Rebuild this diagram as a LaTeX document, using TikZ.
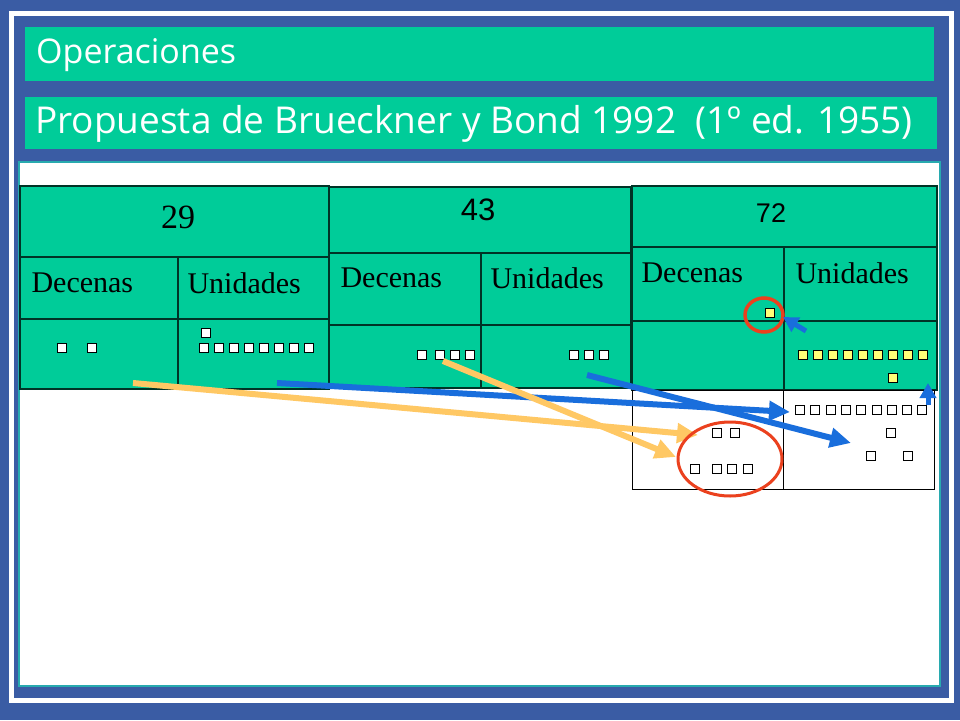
\documentclass[tikz,border=0pt]{standalone}
\usepackage{fontspec}
\setmainfont{Liberation Serif}
\newfontfamily\titlefont{Open Sans}
\newfontfamily\numfont{Liberation Sans}
\usetikzlibrary{arrows.meta}

\definecolor{slideblue}{RGB}{58,92,164}
\definecolor{cellgreen}{RGB}{0,204,153}
\definecolor{panelrim}{RGB}{40,170,175}
\definecolor{arrowblue}{RGB}{25,110,220}
\definecolor{arrowyellow}{RGB}{255,200,100}
\definecolor{ringred}{RGB}{235,65,30}
\definecolor{unitfill}{RGB}{255,255,120}

\tikzset{
  unit/.style={draw=black, fill=white, minimum size=9pt, inner sep=0pt, line width=0.8pt},
  newunit/.style={unit, fill=unitfill},
  cell/.style={draw=black!75!cellgreen, line width=1.2pt},
  move/.style={line width=6pt, -{Triangle[length=21pt,width=19pt]}},
  nudge/.style={line width=5pt, -{Triangle[length=15pt,width=16pt]}},
}

\begin{document}
\begin{tikzpicture}[x=1pt,y=-1pt]
\useasboundingbox (0,0) rectangle (960,720);
\fill[slideblue] (0,0) rectangle (960,720);
\draw[white, line width=5pt] (11,13) rectangle (951,700);

% titles
\fill[cellgreen] (25,27) rectangle (934,81);
\node[anchor=west, white, inner sep=0pt, font=\titlefont\fontsize{34}{40}\selectfont] (title) at (36,55) {Operaciones};
\fill[cellgreen] (25,97) rectangle (937,149);
\node[anchor=west, white, inner sep=0pt, font=\titlefont\fontsize{37}{42}\selectfont] (subtitle) at (35,124) {Propuesta de Brueckner y Bond 1992\ \ (1º ed. 1955)};

\fill[white] (19,162) rectangle (940,686);
\draw[panelrim, line width=1.5pt] (19,162) rectangle (940,686);

% 29
\fill[cellgreen] (20,186) rectangle (329,389);
\draw[cell] (20,186) rectangle (329,389);
\draw[cell] (20,257) -- (329,257);
\draw[cell] (20,319) -- (329,319);
\draw[cell] (178,257) -- (178,389);
\node[font=\fontsize{34}{40}\selectfont] (n29) at (178,217) {29};
\node[anchor=west, font=\fontsize{30}{36}\selectfont] (dec1) at (28,283) {Decenas};
\node[anchor=west, font=\fontsize{30}{36}\selectfont] (uni1) at (184,283) {Unidades};

% 43
\fill[cellgreen] (329,187) rectangle (631,388);
\draw[cell] (329,187) rectangle (631,388);
\draw[cell] (329,253) -- (631,253);
\draw[cell] (329,325) -- (631,325);
\draw[cell] (481,253) -- (481,388);
\node[font=\numfont\fontsize{31}{36}\selectfont] (n43) at (478,210) {43};
\node[anchor=west, font=\fontsize{30}{36}\selectfont] (dec2) at (337,278) {Decenas};
\node[anchor=west, font=\fontsize{30}{36}\selectfont] (uni2) at (487,278) {Unidades};

% 72
\fill[cellgreen] (632,186) rectangle (937,390);
\draw[cell] (632,186) rectangle (937,390);
\draw[cell] (632,247) -- (937,247);
\draw[cell] (632,321) -- (937,321);
\draw[cell] (784,247) -- (784,390);
\draw[black, line width=1pt] (632,390) rectangle (934,489);
\draw[black, line width=1pt] (783,390) -- (783,489);
\node[font=\numfont\fontsize{27}{32}\selectfont] (n72) at (771,213) {72};
\node[anchor=west, font=\fontsize{30}{36}\selectfont] (dec3) at (638,273) {Decenas};
\node[anchor=west, font=\fontsize{30}{36}\selectfont] (uni3) at (792,273) {Unidades};

% unit squares
\node[unit] (a1) at (62,348) {};
\node[unit] (a2) at (92,348) {};
\node[unit] (b0) at (206,333) {};
\foreach \x [count=\i] in {204,219,234,249,264,279,294,309}
  \node[unit] (b\i) at (\x,348) {};
\foreach \x [count=\i] in {422,440,455,470}
  \node[unit] (c\i) at (\x,355) {};
\foreach \x [count=\i] in {574,589,604}
  \node[unit] (d\i) at (\x,355) {};

\node[newunit] (ten) at (770,313) {};
\foreach \x [count=\i] in {803,818,833,848,863,878,893,908,923}
  \node[newunit] (e\i) at (\x,355) {};
\node[newunit] (e10) at (893,378) {};

\foreach \x [count=\i] in {800,815,831,846,861,877,892,907,922}
  \node[unit] (f\i) at (\x,410) {};
\node[unit] (f10) at (891,433) {};
\node[unit] (f11) at (871,456) {};
\node[unit] (f12) at (908,456) {};

\node[unit] (g1) at (717,433) {};
\node[unit] (g2) at (735,433) {};
\foreach \x [count=\i from 3] in {695,717,732,748}
  \node[unit] (g\i) at (\x,469) {};

% moves
\coordinate (bs) at (277,383);
\coordinate (bt) at (790,412);
\coordinate (cs) at (587,375);
\coordinate (ct) at (851,443);
\coordinate (ys) at (133,383);
\coordinate (yt) at (698,435);
\coordinate (zs) at (443,361);
\coordinate (zt) at (676,457);
\draw[move, arrowblue] (bs) -- (bt);
\draw[move, arrowblue] (cs) -- (ct);
\draw[move, arrowyellow] (ys) -- (yt);
\draw[move, arrowyellow] (zs) -- (zt);

\draw[ringred, line width=3.5pt] (764,315) ellipse (19pt and 17pt);
\draw[ringred, line width=3pt] (730,459) ellipse (52pt and 37pt);

\coordinate (ks) at (806,331);
\coordinate (kt) at (783,317);
\draw[nudge, arrowblue] (ks) -- (kt);
\coordinate (us) at (928,405);
\coordinate (ut) at (928,383);
\draw[nudge, arrowblue] (us) -- (ut);
\end{tikzpicture}
\end{document}
